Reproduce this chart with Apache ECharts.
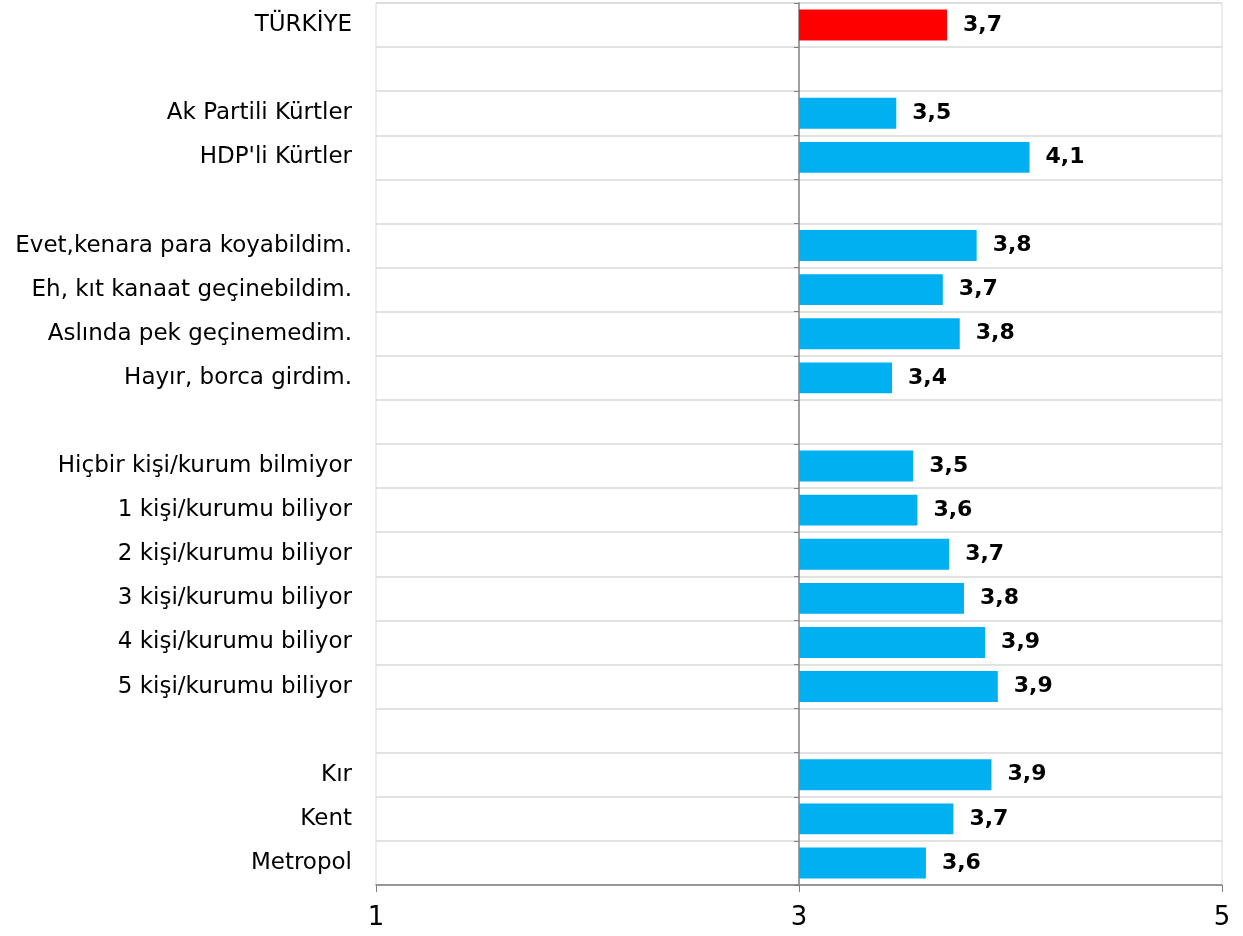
<!DOCTYPE html>
<html>
<head>
<meta charset="utf-8">
<script src="https://cdn.jsdelivr.net/npm/echarts@6/dist/echarts.min.js"></script>
<style>
  html, body { margin: 0; padding: 0; background: #fff; }
  #chart { width: 1243px; height: 936px; }
</style>
</head>
<body>
<div id="chart"></div>
<script>
// kategoriler (boş satırlar gruplar arası boşluk)
var categories = [
  'TÜRKİYE', '',
  'Ak Partili Kürtler', "HDP'li Kürtler", ' ',
  'Evet,kenara para koyabildim.', 'Eh, kıt kanaat geçinebildim.', 'Aslında pek geçinemedim.', 'Hayır, borca girdim.', '  ',
  'Hiçbir kişi/kurum bilmiyor', '1 kişi/kurumu biliyor', '2 kişi/kurumu biliyor', '3 kişi/kurumu biliyor', '4 kişi/kurumu biliyor', '5 kişi/kurumu biliyor', '   ',
  'Kır', 'Kent', 'Metropol'
];
var values = [
  3.70, null,
  3.46, 4.09, null,
  3.84, 3.68, 3.76, 3.44, null,
  3.54, 3.56, 3.71, 3.78, 3.88, 3.94, null,
  3.91, 3.73, 3.60
];
var xTicks = [1, 3, 5];
var baseValue = 3;

var myChart = echarts.init(document.getElementById('chart'));

var baseData = [];
var deltaData = [];
for (var i = 0; i < values.length; i++) {
  if (values[i] == null) {
    baseData.push('-');
    deltaData.push('-');
  } else {
    baseData.push(baseValue);
    deltaData.push({
      value: +(values[i] - baseValue).toFixed(3),
      real: values[i],
      itemStyle: { color: i === 0 ? '#ff0000' : '#00b0f0' }
    });
  }
}

var gridLeft = 376, gridRight = 21;
var gridWidth = 1243 - gridLeft - gridRight;

var option = {
  backgroundColor: '#fff',
  animation: false,
  grid: {
    left: gridLeft, right: gridRight, top: 3, bottom: 51,
    show: true, borderColor: '#d9d9d9', borderWidth: 1
  },
  xAxis: {
    type: 'value',
    min: xTicks[0],
    max: xTicks[xTicks.length - 1],
    interval: 2,
    axisLine: { show: true, lineStyle: { color: '#808080', width: 1.5 } },
    axisTick: { show: true, length: 7, lineStyle: { color: '#808080' } },
    axisLabel: { color: '#000', fontSize: 26, fontFamily: 'DejaVu Sans', margin: 20 },
    splitLine: { show: false }
  },
  yAxis: [{
    type: 'category',
    inverse: true,
    data: categories,
    axisLine: { show: false },
    axisTick: { show: false },
    axisLabel: { color: '#000', fontSize: 23, fontFamily: 'DejaVu Sans', margin: 24 },
    splitLine: { show: true, interval: 0, lineStyle: { color: '#d9d9d9', width: 1.5 } }
  }, {
    type: 'category',
    inverse: true,
    position: 'left',
    offset: -gridWidth / 2,
    data: categories,
    axisLine: { show: true, lineStyle: { color: '#808080', width: 1.5 } },
    axisTick: { show: true, length: 5, interval: 0, lineStyle: { color: '#808080' } },
    axisLabel: { show: false },
    splitLine: { show: false }
  }],
  series: [{
    type: 'bar',
    stack: 'a',
    silent: true,
    data: baseData,
    itemStyle: { color: 'transparent' },
    barCategoryGap: '30%'
  }, {
    type: 'bar',
    stack: 'a',
    data: deltaData,
    barCategoryGap: '30%',
    label: {
      show: true,
      position: 'right',
      distance: 16,
      color: '#000',
      fontSize: 22,
      fontWeight: 'bold',
      fontFamily: 'DejaVu Sans',
      formatter: function (p) {
        return p.data.real.toFixed(1).replace('.', ',');
      }
    }
  }]
};

myChart.setOption(option);
</script>
</body>
</html>
